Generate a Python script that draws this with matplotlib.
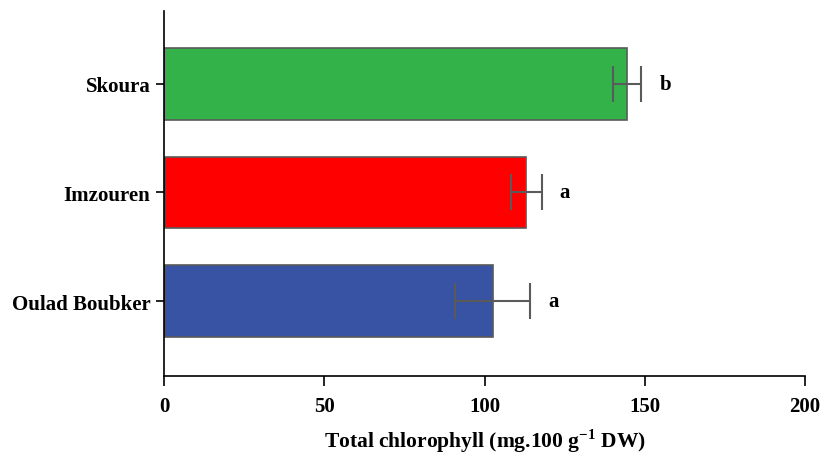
import numpy as np
import matplotlib
matplotlib.use("Agg")
import matplotlib.pyplot as plt

plt.rcParams['font.family'] = ['Liberation Serif', 'DejaVu Serif']
plt.rcParams['font.weight'] = 'bold'
plt.rcParams['mathtext.fontset'] = 'custom'
plt.rcParams['mathtext.rm'] = 'Liberation Serif:bold'
plt.rcParams['mathtext.bf'] = 'Liberation Serif:bold'

sites = ['Oulad Boubker', 'Imzouren', 'Skoura']
chloro = [102.5, 113.0, 144.5]
sd = [11.7, 4.8, 4.4]
letters = ['a', 'a', 'b']
colors = ['#3953a4', '#ff0000', '#33b24a']

fig = plt.figure(figsize=(8.21, 4.56), dpi=100)
ax = fig.add_axes([0.2, 0.173, 0.7805, 0.801])

y = np.arange(len(sites))
ax.barh(y, chloro, height=0.66, color=colors, edgecolor='#5a5a5a', linewidth=1.2, zorder=2)
ax.errorbar(chloro, y, xerr=sd, fmt='none', ecolor='#5a5a5a', elinewidth=1.5,
            capsize=13, capthick=1.5, zorder=3)
for yi, m, s, l in zip(y, chloro, sd, letters):
    ax.annotate(l, (m + s, yi), xytext=(13, 0), textcoords='offset points',
                va='center', ha='left', fontsize=15, fontweight='bold')

ax.set_xlim(0, 200)
ax.set_ylim(-0.69, 2.67)
ax.set_xticks([0, 50, 100, 150, 200])
ax.set_yticks(y)
ax.set_yticklabels(sites)
ax.tick_params(axis='both', labelsize=15, width=1.2, color='black')
ax.tick_params(axis='x', length=7, pad=7)
ax.tick_params(axis='y', length=6, pad=4)
for lab in ax.get_xticklabels() + ax.get_yticklabels():
    lab.set_fontweight('bold')
ax.spines['top'].set_visible(False)
ax.spines['right'].set_visible(False)
ax.spines['left'].set_linewidth(1.2)
ax.spines['bottom'].set_linewidth(1.2)
ax.set_xlabel(r'Total chlorophyll (mg.100 g$^{-1}$ DW)', fontsize=15.5,
              fontweight='bold', labelpad=8)

fig.savefig('out.png', dpi=100)
